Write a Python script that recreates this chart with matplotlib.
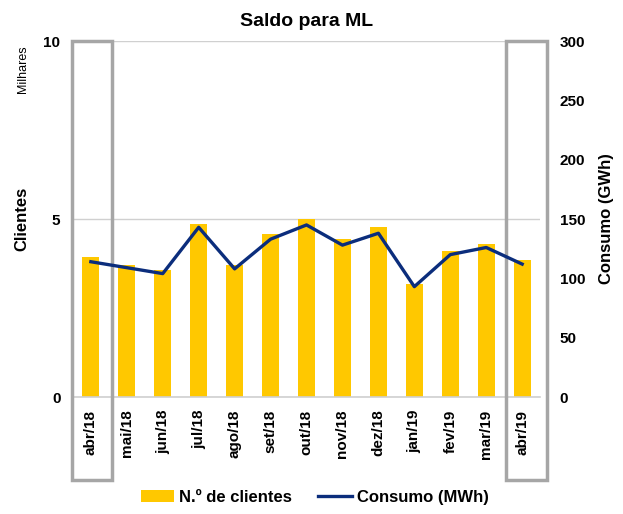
import numpy as np
import matplotlib.pyplot as plt
from matplotlib.patches import Rectangle
import matplotlib.transforms as mtransforms

# Dados
meses = ['abr/18', 'mai/18', 'jun/18', 'jul/18', 'ago/18', 'set/18', 'out/18',
         'nov/18', 'dez/18', 'jan/19', 'fev/19', 'mar/19', 'abr/19']
clientes = [3.93, 3.72, 3.57, 4.86, 3.72, 4.59, 5.01, 4.44, 4.77, 3.17, 4.11, 4.29, 3.85]
consumo = [114, 109, 104, 143, 108, 133, 145, 128, 138, 93, 120, 126, 112]

plt.rcParams['font.family'] = ['Liberation Sans Narrow', 'Liberation Sans', 'DejaVu Sans']

cor_barra = '#FFC800'
cor_linha = '#0B2D7C'
cor_caixa = '#A6A6A6'

fig = plt.figure(figsize=(6.23, 5.14), dpi=100)
ax = fig.add_axes([0.117, 0.2276, 0.750, 0.6926])
ax2 = ax.twinx()

x = np.arange(len(meses))
barras = ax.bar(x, clientes, width=0.48, color=cor_barra, zorder=2, label='N.º de clientes')
linha, = ax2.plot(x, consumo, color=cor_linha, linewidth=2.4, label='Consumo (MWh)', zorder=3)

ax.set_xlim(-0.5, len(meses) - 0.5)
ax.set_ylim(0, 10)
ax.set_yticks([0, 5, 10])
ax2.set_ylim(0, 300)
ax2.set_yticks(range(0, 301, 50))

ax.grid(True, axis='y', color='#D0D0D0', linewidth=1, zorder=0)
for a in (ax, ax2):
    for s in a.spines.values():
        s.set_visible(False)
ax.spines['bottom'].set_visible(True)
ax.spines['bottom'].set_color('#D0D0D0')
ax.spines['bottom'].set_linewidth(1.2)

ax.set_xticks(x)
ax.set_xticklabels(meses, rotation=90, fontsize=11, fontweight='bold')
ax.tick_params(axis='both', length=0, pad=9)
ax2.tick_params(axis='y', length=0, pad=14)
for t in ax.get_yticklabels():
    t.set_fontsize(11)
    t.set_fontweight('bold')
for t in ax2.get_yticklabels():
    t.set_fontsize(11)
    t.set_fontweight('bold')

ax.set_ylabel('Clientes', fontsize=12, fontweight='bold', labelpad=10)
ax2.set_ylabel('Consumo (GWh)', fontsize=12, fontweight='bold', labelpad=10)
fig.text(0.037, 0.865, 'Milhares', rotation=90, fontsize=9, ha='center', va='center')

ax.set_title('Saldo para ML', fontsize=14, fontweight='bold', pad=11)

# Caixas cinzentas a destacar abr/18 e abr/19
trans = mtransforms.blended_transform_factory(ax.transData, ax.transAxes)
for x0, x1 in [(-0.53, 0.58), (11.56, 12.68)]:
    ax.add_patch(Rectangle((x0, -0.233), x1 - x0, 1.233, transform=trans,
                           fill=False, edgecolor=cor_caixa, linewidth=2.5,
                           clip_on=False, zorder=5))

fig.legend([barras, linha], ['N.º de clientes', 'Consumo (MWh)'],
           loc='center', bbox_to_anchor=(0.505, 0.033), ncol=2, frameon=False,
           prop={'size': 12, 'weight': 'bold'}, handlelength=2.0,
           handletextpad=0.3, columnspacing=1.6)

fig.savefig('out.png', dpi=100)
